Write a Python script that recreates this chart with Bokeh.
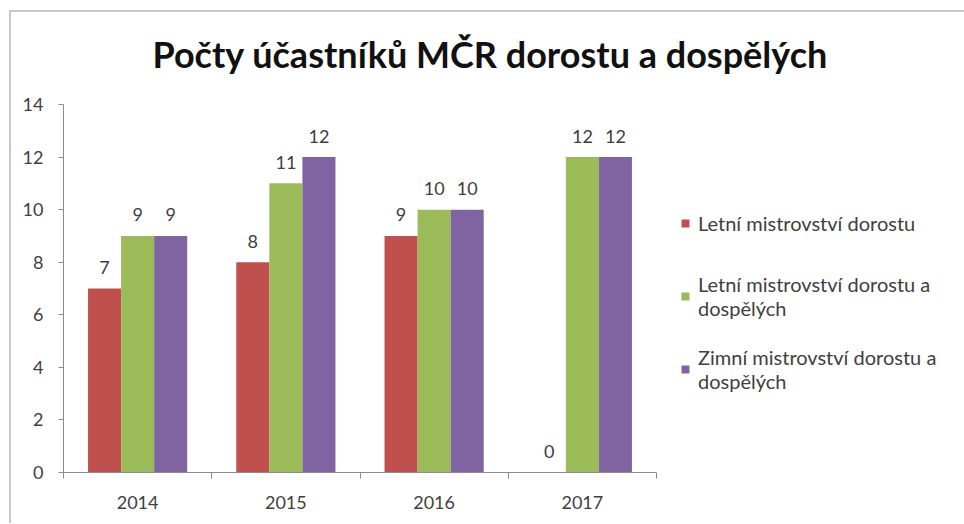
from bokeh.plotting import figure
from bokeh.models import Range1d, FixedTicker, Legend, LegendItem
from bokeh.core.properties import value
from bokeh.embed import file_html
from bokeh.resources import INLINE

title_text = "Počty účastníků MČR dorostu a dospělých"
years = ["2014", "2015", "2016", "2017"]
letni_dorost = [7, 8, 9, 0]
letni_dorost_dosp = [9, 11, 10, 12]
zimni_dorost_dosp = [9, 12, 10, 12]
series_names = [
    "Letní mistrovství dorostu",
    "Letní mistrovství dorostu a\ndospělých",
    "Zimní mistrovství dorostu a\ndospělých",
]
series_colors = ["#C0504D", "#9BBB59", "#8064A2"]
y_ticks = [0, 2, 4, 6, 8, 10, 12, 14]

FONT = "Lato"
TXT = "#404040"
AX = "#8c8c8c"

page_styles = {
    "background-color": "white",
    "background-image": "linear-gradient(#c8c8c8,#c8c8c8), linear-gradient(#c8c8c8,#c8c8c8)",
    "background-size": "2px 600px, 1000px 2px",
    "background-position": "9px 10px, 9px 10px",
    "background-repeat": "no-repeat",
}

p = figure(frame_width=593, frame_height=368,
           x_range=Range1d(0, len(years)), y_range=Range1d(0, 14),
           output_backend="svg", toolbar_location=None,
           min_border_left=63, min_border_right=0, min_border_top=102, min_border_bottom=51,
           styles=page_styles)
p.outline_line_color = None
p.grid.visible = False
p.background_fill_color = "white"
p.border_fill_color = None

p.title.text = title_text
p.title.text_font = FONT
p.title.text_font_size = "36px"
p.title.text_font_style = "bold"
p.title.text_color = "#111111"
p.title.align = "left"
p.title.offset = 89
p.title.standoff = 58

bar_w = 0.223
all_series = [letni_dorost, letni_dorost_dosp, zimni_dorost_dosp]
items = []
for k, (vals, col, name) in enumerate(zip(all_series, series_colors, series_names)):
    xs = [i + 0.5 + (k - 1) * bar_w for i in range(len(years))]
    r = p.vbar(x=xs, top=vals, width=bar_w, bottom=0, fill_color=col, line_color=None)
    p.text(x=xs, y=vals, text=[str(v) for v in vals], text_align="center",
           text_baseline="alphabetic", y_offset=-21, text_font=value(FONT),
           text_font_size="18px", text_color=TXT)
    items.append(LegendItem(label=name, renderers=[r]))

p.xaxis.ticker = FixedTicker(ticks=[i + 0.5 for i in range(len(years))],
                             minor_ticks=list(range(len(years) + 1)))
p.xaxis.major_label_overrides = {i + 0.5: y for i, y in enumerate(years)}
p.xaxis.major_tick_out = 0
p.xaxis.major_tick_in = 0
p.xaxis.minor_tick_out = 6
p.xaxis.minor_tick_in = 0
p.xaxis.major_label_standoff = 17

p.yaxis.ticker = FixedTicker(ticks=y_ticks, minor_ticks=[])
p.yaxis.major_tick_out = 5
p.yaxis.major_tick_in = 0
p.yaxis.major_label_standoff = 15

for ax in (p.xaxis[0], p.yaxis[0]):
    ax.axis_line_color = AX
    ax.major_tick_line_color = AX
    ax.minor_tick_line_color = AX
    ax.major_label_text_font = FONT
    ax.major_label_text_font_size = "18px"
    ax.major_label_text_color = TXT

legend = Legend(items=items, location=(24, 75), margin=0, padding=0, spacing=17,
                glyph_width=10, glyph_height=10, label_standoff=8, label_height=56,
                label_text_font=FONT, label_text_font_size="20px",
                label_text_color=TXT, label_text_line_height=1.41,
                background_fill_alpha=0, border_line_color=None)
p.add_layout(legend, "right")

open("out.html", "w").write(file_html(p, INLINE))
